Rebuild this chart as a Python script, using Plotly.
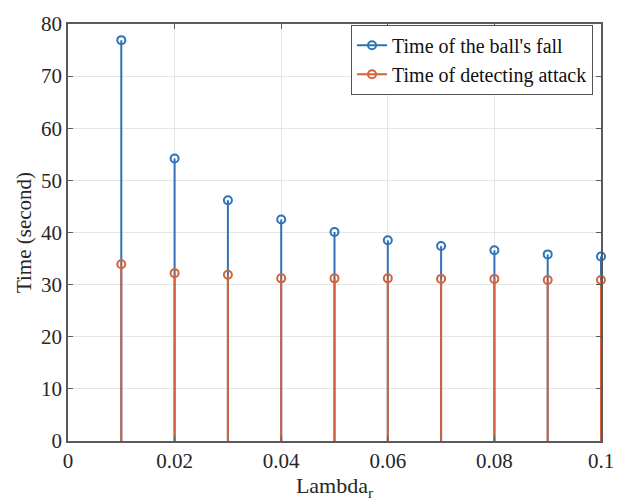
import plotly.graph_objects as go

lam = [0.01, 0.02, 0.03, 0.04, 0.05, 0.06, 0.07, 0.08, 0.09, 0.10]
t_fall = [76.9, 54.2, 46.2, 42.5, 40.1, 38.5, 37.4, 36.6, 35.8, 35.4]
t_detect = [33.9, 32.2, 31.9, 31.2, 31.2, 31.2, 31.1, 31.1, 30.9, 30.9]
series_names = ["Time of the ball's fall", "Time of detecting attack"]
colors = ["#2F72B6", "#D4623A"]
x_ticks = [0, 0.02, 0.04, 0.06, 0.08, 0.1]
x_tick_text = ["0", "0.02", "0.04", "0.06", "0.08", "0.1"]
y_ticks = [0, 10, 20, 30, 40, 50, 60, 70, 80]

FONT = "Liberation Serif, Times New Roman, serif"

fig = go.Figure()
for vals, name, col in [(t_fall, series_names[0], colors[0]), (t_detect, series_names[1], colors[1])]:
    xs, ys = [], []
    for xv, yv in zip(lam, vals):
        xs += [xv, xv, None]
        ys += [0, yv, None]
    fig.add_trace(go.Scatter(x=xs, y=ys, mode="lines", line=dict(color=col, width=2),
                             showlegend=False, hoverinfo="skip", cliponaxis=False))
    fig.add_trace(go.Scatter(x=lam, y=vals, mode="markers", cliponaxis=False,
                             marker=dict(symbol="circle-open", size=8, color=col, line=dict(width=2, color=col)),
                             showlegend=False))
    fig.add_trace(go.Scatter(x=[None], y=[None], mode="lines+markers", name=name,
                             line=dict(color=col, width=2),
                             marker=dict(symbol="circle-open", size=8, color=col, line=dict(width=2, color=col))))

fig.update_layout(
    width=627, height=501,
    margin=dict(l=68, r=26, t=16, b=60),
    paper_bgcolor="white", plot_bgcolor="white",
    font=dict(family=FONT, size=21, color="#262626"),
    showlegend=True,
    legend=dict(x=0.985, y=0.998, xanchor="right", yanchor="top",
                bgcolor="white", bordercolor="#555555", borderwidth=1,
                font=dict(family=FONT, size=20, color="#111111"),
                tracegroupgap=0, itemwidth=30),
    xaxis=dict(range=[0, 0.1], tickvals=x_ticks, ticktext=x_tick_text,
               showgrid=True, gridcolor="#E6E6E6", gridwidth=1,
               zeroline=False, showline=True, linecolor="#5a5a5a", linewidth=1.5, mirror="ticks",
               ticks="inside", ticklen=5, tickcolor="#5a5a5a",
               title=dict(text="Lambda<sub>r</sub>", font=dict(family=FONT, size=22), standoff=0),
               tickfont=dict(family=FONT, size=21)),
    yaxis=dict(range=[0, 80], tickvals=y_ticks,
               showgrid=True, gridcolor="#E6E6E6", gridwidth=1,
               zeroline=False, showline=True, linecolor="#5a5a5a", linewidth=1.5, mirror="ticks",
               ticks="inside", ticklen=5, tickcolor="#5a5a5a",
               title=dict(text="Time (second)", font=dict(family=FONT, size=21), standoff=4),
               tickfont=dict(family=FONT, size=21)),
)

fig.write_html("out.html")
